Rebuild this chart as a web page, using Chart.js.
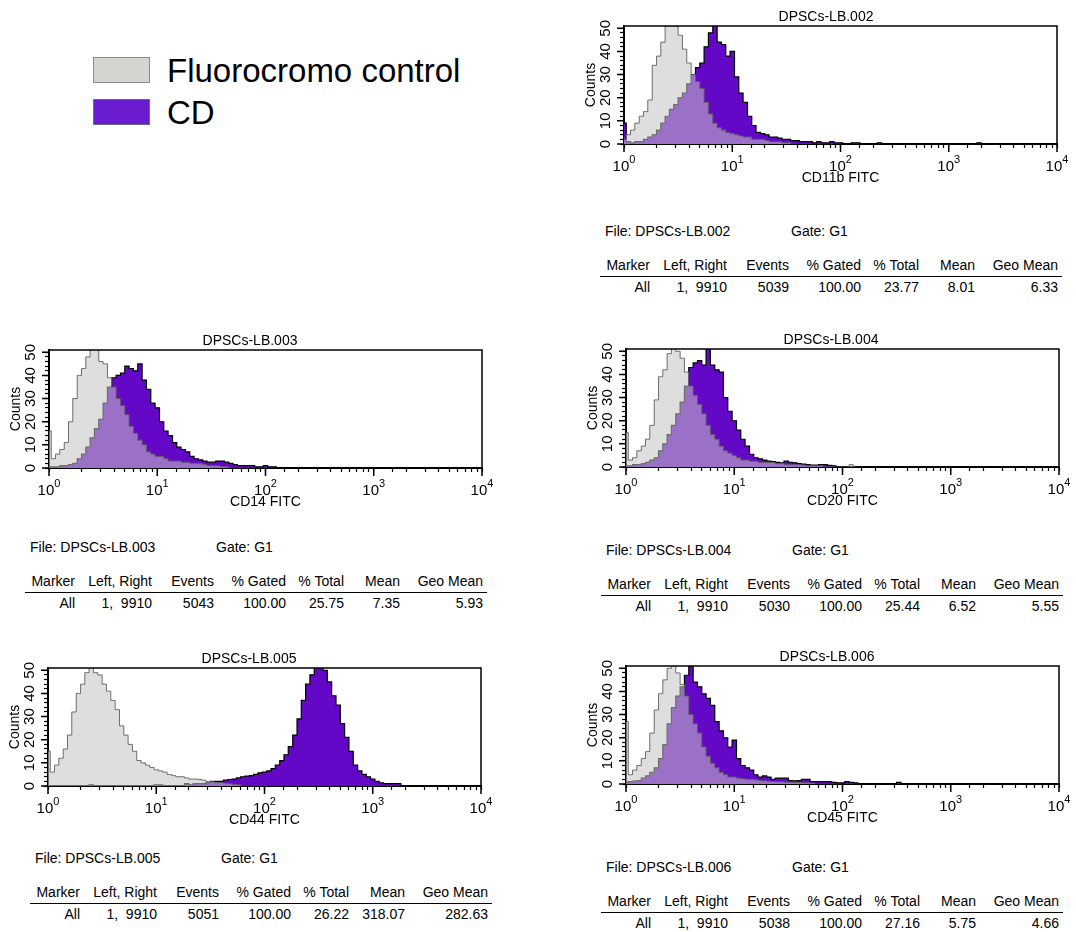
<!DOCTYPE html>
<html>
<head>
<meta charset="utf-8">
<script src="https://cdn.jsdelivr.net/npm/chart.js@4.4.1/dist/chart.umd.min.js"></script>
<style>
  body { margin: 0; background: #fff; font-family: "Liberation Sans", Arial, sans-serif; color: #000; }
  #page { position: relative; width: 1076px; height: 932px; overflow: hidden; }
  canvas { position: absolute; }
  .txt { position: absolute; font-size: 14px; line-height: 16px; white-space: pre; }
  .cell { position: absolute; font-size: 14px; line-height: 16px; white-space: pre; text-align: right; width: 120px; }
  .ttl { position: absolute; font-size: 14px; line-height: 16px; white-space: pre; text-align: center; width: 200px; }
  .rule { position: absolute; height: 0; border-top: 1.5px solid #000; }
  .swatch { position: absolute; width: 57px; height: 26px; box-sizing: border-box; }
  .legtxt { position: absolute; font-size: 33px; line-height: 36px; white-space: pre; }
</style>
</head>
<body>
<div id="page"></div>
<script>
// fluorescence channels, 0.04 decade apart (10^0 .. 10^4)
const channels = [
  1.00, 1.10, 1.20, 1.32, 1.45, 1.58, 1.74, 1.91, 2.09, 2.29, 2.51, 2.75, 3.02, 3.31, 3.63, 3.98, 4.37, 4.79, 5.25, 5.75, 6.31, 6.92, 7.59, 8.32, 9.12,
  10.0, 11.0, 12.0, 13.2, 14.5, 15.8, 17.4, 19.1, 20.9, 22.9, 25.1, 27.5, 30.2, 33.1, 36.3, 39.8, 43.7, 47.9, 52.5, 57.5, 63.1, 69.2, 75.9, 83.2, 91.2,
  100, 110, 120, 132, 145, 158, 174, 191, 209, 229, 251, 275, 302, 331, 363, 398, 437, 479, 525, 575, 631, 692, 759, 832, 912,
  1000, 1096, 1202, 1318, 1445, 1585, 1738, 1905, 2089, 2291, 2512, 2754, 3020, 3311, 3631, 3981, 4365, 4786, 5248, 5754, 6310, 6918, 7586, 8318, 9120,
  10000
];

// axis ticks and labels
const decadeValues = [1, 10, 100, 1000, 10000];
const decadeBase = '10';
const decadeExponents = ['0', '1', '2', '3', '4'];
const yTickValues = [0, 2, 4, 6, 8, 10, 12, 14, 16, 18, 20, 22, 24, 26, 28, 30, 32, 34, 36, 38, 40, 42, 44, 46, 48, 50];
const yMajorValues = [0, 10, 20, 30, 40, 50];
const seriesNames = ['Fluorocromo control', 'CD'];

// counts per channel
const cd11bControl = [2,4,6,9,12,14,19,34,38,44, 51,53,51,47,41,35,30,27,24,18, 13,9,7,6,5,4.5,4,3.5,3,3, 2,2,2,1.5,1,1,1,0.5,0.5,0];
const cd11bStained = [9,1,0.5,1,1,2,3,4,6,9, 12,15,17,20,22,26,30,33,35,42, 48,52,44,43,38,40,29,22,18,12,
  8,5,4.5,4,3,3,2.5,2,2,1.5, 1.5,1,1,1,0.5,1,0.5,0.5,1,0.5, 0.5,0,0,0.5,0.5,0,0,0,0,0.5,
  0,0,0,0,0,0,0,0,0,0, 0,0,0,0,0,0,0,0,0,0, 0,0,0.5,0];

const cd14Control = [16,4,6,8,11,20,30,40,43,48, 52,53,46,45,39,35,30,27,23,18, 15,12,10,7,6,5,5,4,3,3, 3,2.5,2.5,2,2,2,1.5,1,1,1, 0.5,0.5,0];
const cd14Stained = [0.5,0.5,0.5,1,1,1.5,2,4,6,9, 13,17,21,28,35,39,40,41,44,43, 42,45,38,34,28,26,20,16,14,11,
  9,8,7,5,4,3.5,3,2.5,2.5,3, 3,2.5,2,1.5,1,1,1,1,0.5,0.5, 1,0.5,0.5,0];

const cd20Control = [15,3,4,7,9,12,18,29,39,42, 49,53,50,47,41,35,31,27,23,18, 14,12,9,7,6,5,4,3,3,2.5,
  2.5,2,2,2,2,1.5,1.5,1,1,1, 1,0.8,0.5,0.5,0.5,0.5,0,0,0,0, 0,0,1,0];
const cd20Stained = [0.5,0.5,1,1,1.5,2,3,4,7,10, 14,18,23,28,35,43,45,46,44,51, 44,42,41,30,24,20,16,12,9,5.5,
  4,3.5,3,2.5,2.3,2,1.8,2.5,2,1.8, 1.5,1.2,1,0.8,0.8,1,1,0.7,0.5,0];

const cd44Control = [15,6,9,12,16,22,32,40,44,49, 53,49,48,44,41,37,33,26,22,18, 15,11,10,9,8,7,6.5,6,5,4.5,
  4,4,3.5,3,3,2.8,2.5,2,1.8,1.5, 1.5,1.2,1,0.7,0.5,0];
const cd44Stained = [0,0,0,0,0,0,0,0,0,0, 0.5,0,0,0,0,0,0,0,0,0, 0,0,0,0,0,0.5,0.5,0,0,0,
  0,0,1,0.5,1,1,1,1.5,2,2, 2,2.5,2.8,3,3.5,4,4.3,4.5,5,5.7, 6,6.5,7.5,9,11,13.5,17,22,29,37,
  44,48,52,53,50,45,39,35,27,21, 15,9,6.5,5,4,3,2,1.4,1,1, 1,1,0];

const cd45Control = [27,4,6,8,11,14,22,32,39,45, 50,53,48,43,38,30,26,22,16,12, 9,7,5,4,3,3,2.5,2.3,2,2,
  1.8,1.5,1.4,1.2,1,1,1,0.8,0.8,0.7, 0.7,0.5,0.5,0.4,0];
const cd45Stained = [0.7,1,1.2,1.5,2.5,3.5,5,7,11,17, 26,33,38,42,47,51,44,42,39,37, 34,27,23,20,16,19,11,8,7,6,
  4,3,3.5,3,2,2.5,2.5,2.5,1.5,1.4, 1.5,2,2,1,1,1,1,1,0.7,0.5, 0.5,1,0.7,0.5,0,0,0,0,0,0, 0,0,0,0.7,0];

// statistics tables
const statsHeader = ['Marker', 'Left, Right', 'Events', '% Gated', '% Total', 'Mean', 'Geo Mean'];
const stats002 = ['All', '1,  9910', '5039', '100.00', '23.77', '8.01', '6.33'];
const stats003 = ['All', '1,  9910', '5043', '100.00', '25.75', '7.35', '5.93'];
const stats004 = ['All', '1,  9910', '5030', '100.00', '25.44', '6.52', '5.55'];
const stats005 = ['All', '1,  9910', '5051', '100.00', '26.22', '318.07', '282.63'];
const stats006 = ['All', '1,  9910', '5038', '100.00', '27.16', '5.75', '4.66'];

const FONT = '"Liberation Sans", Arial, sans-serif';
const page = document.getElementById('page');

const panels = [
  { file: 'DPSCs-LB.002', axis: 'CD11b FITC', control: cd11bControl, stained: cd11bStained, stats: stats002, left: 584, top: 3, titleX: 826, tLeft: 605, tTop: 231 },
  { file: 'DPSCs-LB.003', axis: 'CD14 FITC', control: cd14Control, stained: cd14Stained, stats: stats003, left: 9, top: 327, titleX: 250, tLeft: 30, tTop: 547 },
  { file: 'DPSCs-LB.004', axis: 'CD20 FITC', control: cd20Control, stained: cd20Stained, stats: stats004, left: 586, top: 326, titleX: 831, tLeft: 606, tTop: 550 },
  { file: 'DPSCs-LB.005', axis: 'CD44 FITC', control: cd44Control, stained: cd44Stained, stats: stats005, left: 8, top: 645, titleX: 249, tLeft: 35, tTop: 858 },
  { file: 'DPSCs-LB.006', axis: 'CD45 FITC', control: cd45Control, stained: cd45Stained, stats: stats006, left: 586, top: 643, titleX: 827, tLeft: 606, tTop: 867 }
];

// box round the plot area, longer major ticks, and 10^n labels
const axisDecor = {
  id: 'axisDecor',
  afterDraw(chart) {
    const { ctx, chartArea: a, scales } = chart;
    const xs = scales.x;
    const ys = scales.y;
    ctx.save();
    ctx.strokeStyle = '#000';
    ctx.lineWidth = 1.5;
    ctx.beginPath();
    ctx.moveTo(a.left, a.top);
    ctx.lineTo(a.right, a.top);
    ctx.lineTo(a.right, a.bottom);
    decadeValues.forEach(v => {
      const px = xs.getPixelForValue(v);
      ctx.moveTo(px, a.bottom);
      ctx.lineTo(px, a.bottom + 8);
    });
    yMajorValues.forEach(v => {
      const py = ys.getPixelForValue(v);
      ctx.moveTo(a.left - 7, py);
      ctx.lineTo(a.left, py);
    });
    ctx.stroke();

    ctx.fillStyle = '#000';
    ctx.textBaseline = 'alphabetic';
    ctx.textAlign = 'left';
    decadeValues.forEach((v, k) => {
      const px = xs.getPixelForValue(v);
      ctx.font = '15px ' + FONT;
      const w1 = ctx.measureText(decadeBase).width;
      ctx.font = '11px ' + FONT;
      const w2 = ctx.measureText(decadeExponents[k]).width;
      const x0 = px - (w1 + w2) / 2;
      ctx.font = '15px ' + FONT;
      ctx.fillText(decadeBase, x0, a.bottom + 27);
      ctx.font = '11px ' + FONT;
      ctx.fillText(decadeExponents[k], x0 + w1, a.bottom + 19);
    });
    ctx.restore();
  }
};

function toPoints(counts) {
  return counts.map((v, i) => ({ x: channels[i], y: v }));
}

function makeHistogram(p) {
  const canvas = document.createElement('canvas');
  canvas.width = 484;
  canvas.height = 185;
  canvas.style.left = p.left + 'px';
  canvas.style.top = p.top + 'px';
  page.appendChild(canvas);

  const ttl = document.createElement('div');
  ttl.className = 'ttl';
  ttl.textContent = p.file;
  ttl.style.left = (p.titleX - 100) + 'px';
  ttl.style.top = (p.top + 23 - 10 - 8) + 'px';
  page.appendChild(ttl);

  new Chart(canvas, {
    type: 'line',
    data: {
      datasets: [
        {
          label: seriesNames[0],
          data: toPoints(p.control),
          backgroundColor: 'rgba(196, 196, 196, 0.56)',
          borderColor: 'rgba(95, 95, 95, 0.9)',
          borderWidth: 1,
          fill: 'origin',
          stepped: 'middle',
          pointRadius: 0
        },
        {
          label: seriesNames[1],
          data: toPoints(p.stained),
          backgroundColor: '#6408c8',
          borderColor: '#000',
          borderWidth: 1.2,
          fill: 'origin',
          stepped: 'middle',
          pointRadius: 0
        }
      ]
    },
    options: {
      responsive: false,
      animation: false,
      devicePixelRatio: 1,
      layout: { padding: { left: 0, right: 11, top: 23, bottom: 0 } },
      plugins: {
        legend: { display: false },
        tooltip: { enabled: false },
        title: { display: false }
      },
      scales: {
        x: {
          type: 'logarithmic',
          min: 1,
          max: 10000,
          z: 1,
          border: { display: true, color: '#000', width: 2 },
          grid: { drawOnChartArea: false, drawTicks: true, tickLength: 4, color: '#000', tickWidth: 1.2 },
          ticks: {
            autoSkip: false,
            maxRotation: 0,
            minRotation: 0,
            padding: 8,
            callback: () => ''
          },
          title: {
            display: true,
            text: p.axis,
            color: '#000',
            font: { family: FONT, size: 14, lineHeight: 1.2 },
            padding: { top: 0, bottom: 1 }
          },
          afterFit: (s) => { s.height = 44; }
        },
        y: {
          min: 0,
          max: 51,
          z: 1,
          border: { display: true, color: '#000', width: 2 },
          grid: { drawOnChartArea: false, drawTicks: true, tickLength: 4, color: '#000', tickWidth: 1.2 },
          afterBuildTicks: (s) => { s.ticks = yTickValues.map(v => ({ value: v })); },
          ticks: {
            autoSkip: false,
            minRotation: 90,
            maxRotation: 90,
            crossAlign: 'center',
            padding: 6,
            color: '#000',
            font: { family: FONT, size: 15 },
            callback: (v) => (yMajorValues.includes(v) ? String(v) : '')
          },
          title: {
            display: true,
            text: 'Counts',
            color: '#000',
            font: { family: FONT, size: 14, lineHeight: 1 },
            padding: 0
          },
          afterFit: (s) => { s.width = 40; }
        }
      }
    },
    plugins: [axisDecor]
  });
}

function addText(cls, text, x, y, align) {
  const d = document.createElement('div');
  d.className = cls;
  d.textContent = text;
  d.style.left = (align === 'right' ? x - 120 : x) + 'px';
  d.style.top = (y - 8) + 'px';
  page.appendChild(d);
}

const colRight = [45, 122, 184, 256, 314, 370, 453];

function makeTable(p) {
  addText('txt', 'File: ' + p.file, p.tLeft, p.tTop);
  addText('txt', 'Gate: G1', p.tLeft + 186, p.tTop);
  statsHeader.forEach((h, i) => addText('cell', h, p.tLeft + colRight[i], p.tTop + 34, 'right'));
  const rule = document.createElement('div');
  rule.className = 'rule';
  rule.style.left = (p.tLeft - 5) + 'px';
  rule.style.width = '462px';
  rule.style.top = (p.tTop + 45) + 'px';
  page.appendChild(rule);
  p.stats.forEach((s, i) => addText('cell', s, p.tLeft + colRight[i], p.tTop + 56, 'right'));
}

function makeLegend() {
  const fills = ['#d4d4d0', '#6a1ccf'];
  const edges = ['#8c8c8c', '#6a6a8a'];
  seriesNames.forEach((name, i) => {
    const box = document.createElement('div');
    box.className = 'swatch';
    box.style.left = '93px';
    box.style.top = (57 + i * 42) + 'px';
    box.style.background = fills[i];
    box.style.border = '1px solid ' + edges[i];
    page.appendChild(box);
    const t = document.createElement('div');
    t.className = 'legtxt';
    t.textContent = name;
    t.style.left = '167px';
    t.style.top = (53 + i * 42) + 'px';
    page.appendChild(t);
  });
}

makeLegend();
panels.forEach(p => { makeHistogram(p); makeTable(p); });
</script>
</body>
</html>
